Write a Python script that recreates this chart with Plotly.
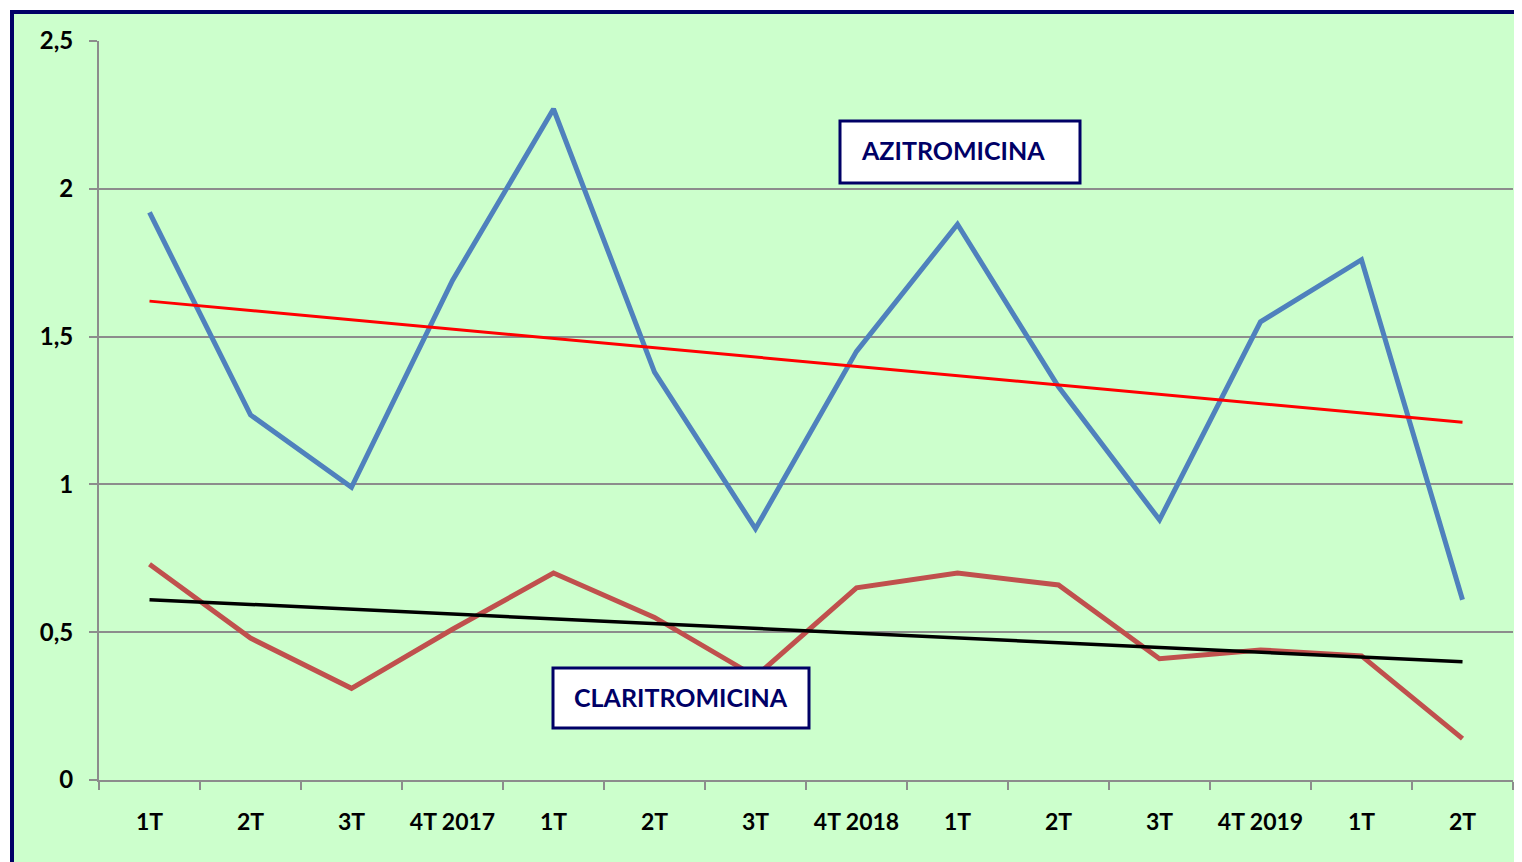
import plotly.graph_objects as go

categories = ["1T", "2T", "3T", "4T 2017", "1T", "2T", "3T", "4T 2018",
              "1T", "2T", "3T", "4T 2019", "1T", "2T"]
azitromicina = [1.92, 1.235, 0.99, 1.69, 2.27, 1.38, 0.85, 1.45,
                1.88, 1.33, 0.88, 1.55, 1.76, 0.61]
claritromicina = [0.73, 0.48, 0.31, 0.51, 0.70, 0.55, 0.35, 0.65,
                  0.70, 0.66, 0.41, 0.44, 0.42, 0.14]
azi_trend_ends = [1.62, 1.21]
cla_trend_ends = [0.61, 0.40]
y_ticks = [0, 0.5, 1, 1.5, 2, 2.5]

x = list(range(len(categories)))
x_ends = [x[0], x[-1]]

FONT = "Lato"
NAVY = "#000066"
GRID = "#8c8c8c"

fig = go.Figure()
fig.add_trace(go.Scatter(x=x, y=azitromicina, mode="lines",
                         line=dict(color="#4F81BD", width=5), name="AZITROMICINA"))
fig.add_trace(go.Scatter(x=x, y=claritromicina, mode="lines",
                         line=dict(color="#C0504D", width=5), name="CLARITROMICINA"))
fig.add_trace(go.Scatter(x=x_ends, y=azi_trend_ends, mode="lines",
                         line=dict(color="#FF0000", width=3), name="trend azi"))
fig.add_trace(go.Scatter(x=x_ends, y=cla_trend_ends, mode="lines",
                         line=dict(color="#000000", width=3.5), name="trend cla"))

# page offset (body margin) is 8px
OFF = 8
W, H = 1522 - OFF, 862 - OFF
L, R, T, B = 99 - OFF, 9, 41 - OFF, 82
pw, ph = W - L - R, H - T - B

def px(v):  # page pixel -> paper x
    return (v - OFF - L) / pw

def py(v):  # page pixel -> paper y
    return (H - B - (v - OFF)) / ph

shapes = [
    dict(type="rect", xref="paper", yref="paper",
         x0=px(12), x1=px(1522 + 20), y0=py(862 + 20), y1=py(12),
         line=dict(color=NAVY, width=4), fillcolor="#CCFFCC", layer="below"),
    dict(type="rect", xref="paper", yref="paper",
         x0=px(840), x1=px(1080), y0=py(183), y1=py(121),
         line=dict(color=NAVY, width=3), fillcolor="white", layer="above"),
    dict(type="rect", xref="paper", yref="paper",
         x0=px(553), x1=px(809), y0=py(728), y1=py(668),
         line=dict(color=NAVY, width=3), fillcolor="white", layer="above"),
]

annotations = [
    dict(text="<b>AZITROMICINA</b>", xref="paper", yref="paper",
         x=px(859), y=py(150), xanchor="left", yanchor="middle", showarrow=False,
         font=dict(family=FONT, size=25, color=NAVY)),
    dict(text="<b>CLARITROMICINA</b>", xref="paper", yref="paper",
         x=px(681), y=py(697), xanchor="center", yanchor="middle", showarrow=False,
         font=dict(family=FONT, size=25, color=NAVY)),
]

fig.update_layout(
    width=W, height=H,
    margin=dict(l=L, r=R, t=T, b=B),
    paper_bgcolor="white",
    plot_bgcolor="rgba(0,0,0,0)",
    showlegend=False,
    separators=",.",
    shapes=shapes,
    annotations=annotations,
    font=dict(family=FONT, size=23, color="black"),
)
fig.update_xaxes(
    range=[-0.5, len(categories) - 0.5],
    tickmode="array", tickvals=x, ticktext=[f"<b>{c}</b>" for c in categories],
    ticks="", showgrid=False, zeroline=False,
    showline=True, linecolor=GRID, linewidth=2,
    ticklabelstandoff=20,
    minor=dict(tickmode="linear", tick0=-0.5, dtick=1, ticks="outside",
               ticklen=8, tickwidth=2, tickcolor=GRID, showgrid=False),
    tickfont=dict(family=FONT, size=23, color="black"),
)
fig.update_yaxes(
    range=[0, 2.5], tickmode="array", tickvals=y_ticks,
    ticktext=[f"<b>{str(v).replace('.', ',')}</b>" if v % 1 else f"<b>{int(v)}</b>" for v in y_ticks],
    ticks="outside", ticklen=8, tickwidth=2, tickcolor=GRID,
    showgrid=True, gridcolor=GRID, gridwidth=2,
    zeroline=False, showline=True, linecolor=GRID, linewidth=2,
    ticklabelstandoff=11,
    tickfont=dict(family=FONT, size=24, color="black"),
)

fig.write_html("out.html")
